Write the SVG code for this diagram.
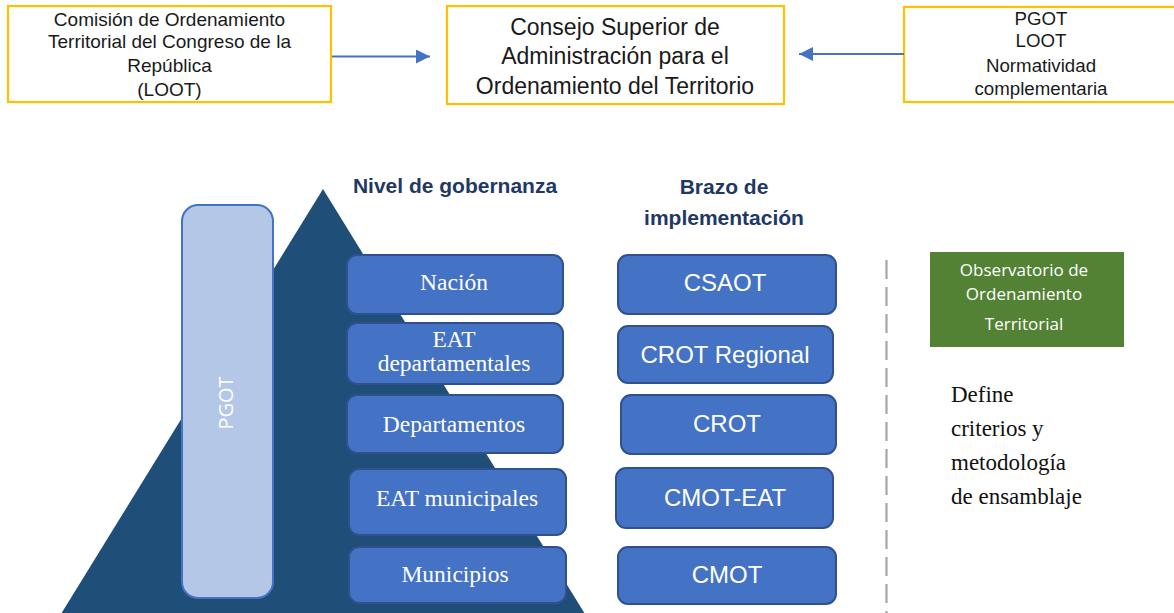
<svg xmlns="http://www.w3.org/2000/svg" width="1174" height="613" viewBox="0 0 1174 613">
<defs>
<style>
.ybox{fill:#fff;stroke:#FFC000;stroke-width:2.2}
.tsans{font-family:"Liberation Sans",Arial,sans-serif;fill:#1a1a1a;text-anchor:middle}
.lvl{fill:#4472C4;stroke:#2F528F;stroke-width:2}
.lt{font-family:"Liberation Serif","Times New Roman",serif;fill:#fff;text-anchor:middle;font-size:23.5px}
.rt{font-family:"Liberation Sans",Arial,sans-serif;fill:#fff;text-anchor:middle;font-size:24px}
.hd{font-family:"Liberation Sans",Arial,sans-serif;font-weight:bold;fill:#1F3864;text-anchor:middle;font-size:21px}
.conn{stroke:#4472C4;stroke-width:2;fill:none}
</style>
<marker id="ah" markerWidth="8" markerHeight="8" refX="7" refY="3.5" orient="auto" markerUnits="strokeWidth">
<path d="M0,0 L7,3.5 L0,7 Z" fill="#4472C4"/>
</marker>
</defs>
<rect width="1174" height="613" fill="#fff"/>

<g id="pyramid">
<polygon points="323,189 61,614 585,614" fill="#1F4E79"/>
</g>

<g id="comision">
<rect class="ybox" x="8" y="6" width="323" height="96"/>
<text class="tsans" font-size="19"><tspan x="169.5" y="26">Comisión de Ordenamiento</tspan><tspan x="169.5" y="48">Territorial del Congreso de la</tspan><tspan x="169.5" y="72">República</tspan><tspan x="169.5" y="96">(LOOT)</tspan></text>
</g>

<g id="consejo">
<rect class="ybox" x="447" y="6" width="337" height="98"/>
<text class="tsans" font-size="23"><tspan x="615" y="35">Consejo Superior de</tspan><tspan x="615" y="64">Administración para el</tspan><tspan x="615" y="94">Ordenamiento del Territorio</tspan></text>
</g>

<g id="normas">
<rect class="ybox" x="904" y="7" width="274" height="95"/>
<text class="tsans" font-size="18.7"><tspan x="1041" y="25">PGOT</tspan><tspan x="1041" y="47">LOOT</tspan><tspan x="1041" y="72">Normatividad</tspan><tspan x="1041" y="95">complementaria</tspan></text>
</g>

<g id="connectors">
<line class="conn" x1="332" y1="56.5" x2="430" y2="56.5" marker-end="url(#ah)"/>
<line class="conn" x1="904" y1="54" x2="799" y2="54" marker-end="url(#ah)"/>
<line x1="886.5" y1="260" x2="886.5" y2="613" stroke="#A6A6A6" stroke-width="2.2" stroke-dasharray="19 8"/>
</g>

<g id="pgot">
<rect x="182" y="205" width="91" height="393" rx="16" fill="#B4C7E7" stroke="#4472C4" stroke-width="2"/>
<text transform="translate(233,403) rotate(-90)" font-family="'Open Sans','Liberation Sans',sans-serif" font-size="20" fill="#fff" text-anchor="middle">PGOT</text>
</g>

<g id="hdr-nivel"><text class="hd" x="455" y="193">Nivel de gobernanza</text></g>
<g id="hdr-brazo"><text class="hd"><tspan x="724" y="194">Brazo de</tspan><tspan x="724" y="225">implementación</tspan></text></g>

<g id="nacion"><rect class="lvl" x="347" y="255" width="216" height="59" rx="10"/><text class="lt" x="454" y="290">Nación</text></g>
<g id="eat-dep"><rect class="lvl" x="347" y="323" width="216" height="61" rx="10"/><text class="lt"><tspan x="454" y="347">EAT</tspan><tspan x="454" y="371">departamentales</tspan></text></g>
<g id="departamentos"><rect class="lvl" x="347" y="395" width="216" height="58" rx="10"/><text class="lt" x="454" y="432">Departamentos</text></g>
<g id="eat-mun"><rect class="lvl" x="349" y="469" width="217" height="66" rx="10"/><text class="lt" x="457" y="506">EAT municipales</text></g>
<g id="municipios"><rect class="lvl" x="349" y="547" width="217" height="56" rx="10"/><text class="lt" x="455" y="582">Municipios</text></g>

<g id="csaot"><rect class="lvl" x="618" y="255" width="218" height="59" rx="10"/><text class="rt" x="725" y="291">CSAOT</text></g>
<g id="crot-reg"><rect class="lvl" x="618" y="326" width="215" height="57" rx="10"/><text class="rt" x="725" y="363">CROT Regional</text></g>
<g id="crot"><rect class="lvl" x="621" y="395" width="215" height="59" rx="10"/><text class="rt" x="727" y="432">CROT</text></g>
<g id="cmot-eat"><rect class="lvl" x="616" y="468" width="217" height="60" rx="10"/><text class="rt" x="725" y="506">CMOT-EAT</text></g>
<g id="cmot"><rect class="lvl" x="618" y="547" width="218" height="57" rx="10"/><text class="rt" x="727" y="583">CMOT</text></g>

<g id="observatorio">
<rect x="930" y="252" width="194" height="95" fill="#548235"/>
<text font-family="'Open Sans','Liberation Sans',sans-serif" font-size="17" fill="#fff" text-anchor="middle"><tspan x="1024" y="276">Observatorio de</tspan><tspan x="1024" y="300">Ordenamiento</tspan><tspan x="1024" y="330">Territorial</tspan></text>
</g>

<g id="define">
<text font-family="'Liberation Serif','Times New Roman',serif" font-size="23" fill="#111"><tspan x="951" y="402">Define</tspan><tspan x="951" y="436">criterios y</tspan><tspan x="951" y="470">metodología</tspan><tspan x="951" y="504">de ensamblaje</tspan></text>
</g>
</svg>
